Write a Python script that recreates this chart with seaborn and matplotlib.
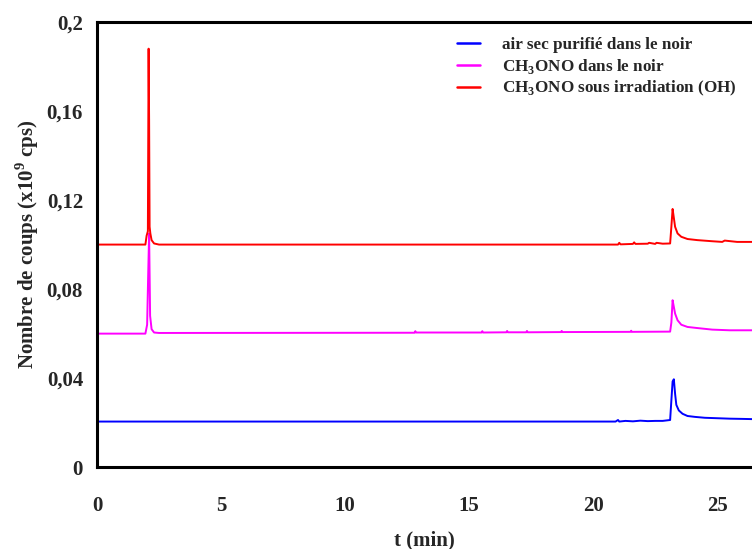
import pandas as pd
import seaborn as sns
import matplotlib.pyplot as plt
from matplotlib.ticker import FuncFormatter

# Data (t in min, counts x1e9 cps)
t_air = [0, 20.9, 21.0, 21.05, 21.3, 21.6, 21.9, 22.2, 22.5, 22.8, 23.1, 23.15, 23.2, 23.25,
         23.3, 23.35, 23.45, 23.6, 23.8, 24.1, 24.5, 25.0, 25.5, 26.0, 26.4]
v_air = [0.0205, 0.0205, 0.0212, 0.0205, 0.0208, 0.0206, 0.0209, 0.0207, 0.0208, 0.0208, 0.0212, 0.0300,
         0.0385, 0.0395, 0.0330, 0.0280, 0.0255, 0.0240, 0.0230, 0.0226, 0.0222, 0.0220, 0.0218, 0.0217, 0.0216]

t_dark = [0, 1.95, 2.02, 2.06, 2.1, 2.14, 2.2, 2.3, 2.5, 12.8, 12.83, 12.86, 15.5, 15.53, 15.56,
          16.5, 16.53, 16.56, 17.3, 17.33, 17.36, 18.7, 18.73, 18.76, 21.5, 21.53, 21.56,
          23.1, 23.15, 23.2, 23.25, 23.3, 23.4, 23.55, 23.8, 24.2, 24.8, 25.5, 26.4]
v_dark = [0.0600, 0.0600, 0.0640, 0.0850, 0.1050, 0.0680, 0.0620, 0.0605, 0.0603, 0.0604, 0.0611,
          0.0605, 0.0605, 0.0611, 0.0605, 0.0606, 0.0612, 0.0606, 0.0606, 0.0612, 0.0606, 0.0607,
          0.0612, 0.0607, 0.0608, 0.0613, 0.0608, 0.0609, 0.0650, 0.0750, 0.0720, 0.0690, 0.0660,
          0.0640, 0.0630, 0.0625, 0.0618, 0.0615, 0.0615]

t_oh = [0, 1.95, 2.0, 2.05, 2.08, 2.1, 2.12, 2.15, 2.2, 2.3, 2.5, 21.0, 21.05, 21.1, 21.6, 21.65,
        21.7, 22.2, 22.25, 22.5, 22.55, 22.8, 23.1, 23.15, 23.2, 23.25, 23.3, 23.4, 23.55, 23.8,
        24.2, 24.8, 25.2, 25.3, 25.8, 26.4]
v_oh = [0.1000, 0.1000, 0.1040, 0.1060, 0.1880, 0.1560, 0.1080, 0.1050, 0.1020, 0.1005, 0.1000,
        0.1000, 0.1008, 0.1001, 0.1003, 0.1010, 0.1003, 0.1004, 0.1008, 0.1003, 0.1008, 0.1004,
        0.1005, 0.1080, 0.1160, 0.1120, 0.1080, 0.1050, 0.1035, 0.1025, 0.1020, 0.1015, 0.1012,
        0.1018, 0.1012, 0.1012]

labels = ['air sec purifié dans le noir', r'CH$_\mathbf{3}$ONO dans le noir',
          r'CH$_\mathbf{3}$ONO sous irradiation (OH)']
colors = ['#0000ff', '#ff00ff', '#ff0000']

df = pd.concat([
    pd.DataFrame({'t': t_air, 'v': v_air, 'serie': labels[0]}),
    pd.DataFrame({'t': t_dark, 'v': v_dark, 'serie': labels[1]}),
    pd.DataFrame({'t': t_oh, 'v': v_oh, 'serie': labels[2]}),
])

sns.set_style('white')
plt.rcParams['font.family'] = ['Liberation Serif', 'DejaVu Serif']
plt.rcParams['font.weight'] = 'bold'
plt.rcParams['mathtext.fontset'] = 'custom'
plt.rcParams['mathtext.rm'] = 'Liberation Serif:bold'
plt.rcParams['mathtext.bf'] = 'Liberation Serif:bold'

fig = plt.figure(figsize=(7.52, 5.49), dpi=100)
ax = fig.add_axes([0.129, 0.149, 0.871, 0.811])

sns.lineplot(data=df, x='t', y='v', hue='serie', palette=colors, sort=False,
             estimator=None, linewidth=1.4, ax=ax)

ax.set_xlim(0, 26.4)
ax.set_ylim(0, 0.2)
ax.set_xticks([0, 5, 10, 15, 20, 25])
ax.set_yticks([0, 0.04, 0.08, 0.12, 0.16, 0.2])
ax.yaxis.set_major_formatter(FuncFormatter(lambda y, p: '0' if y == 0 else ('%g' % round(y, 2)).replace('.', ',')))
ax.tick_params(direction='in', length=6, width=1.5, labelsize=15, pad=10)
ax.tick_params(axis='x', pad=21)
for lab in ax.get_xticklabels() + ax.get_yticklabels():
    lab.set_fontweight('bold')

for s in ['left', 'top', 'bottom']:
    ax.spines[s].set_linewidth(2.2)
    ax.spines[s].set_color('black')
ax.spines['right'].set_visible(False)

ax.set_xlabel('t (min)', fontsize=15, fontweight='bold', labelpad=10)
ax.set_ylabel(r'Nombre de coups (x10$^\mathbf{9}$ cps)', fontsize=15, fontweight='bold', labelpad=4)

leg = ax.legend(loc='upper right', bbox_to_anchor=(1.0, 1.0), frameon=False,
                prop={'size': 12.3, 'weight': 'bold'}, handlelength=1.3, handletextpad=1.3,
                labelspacing=0.2)
for line in leg.get_lines():
    line.set_linewidth(1.8)

fig.savefig('out.png', dpi=100)
